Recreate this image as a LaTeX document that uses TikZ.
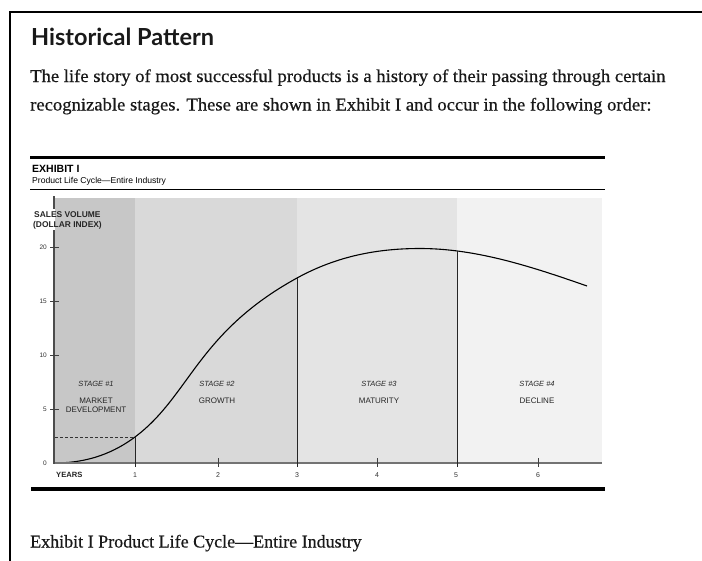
\documentclass[tikz,border=0pt]{standalone}
\usepackage{fontspec}
\setmainfont{Liberation Serif}[FakeBold=0.5]
\newfontfamily\bodyfont{Liberation Serif}[FakeBold=0.5, FakeStretch=1.035]
\newfontfamily\titlefont{Lato}
\newfontfamily\chartfont{Liberation Sans}
\definecolor{regA}{gray}{0.78}
\definecolor{regB}{gray}{0.85}
\definecolor{regC}{gray}{0.895}
\definecolor{regD}{gray}{0.95}
\definecolor{axisgray}{gray}{0.45}
\definecolor{inkblack}{gray}{0.1}
\tikzset{
  bodytext/.style={anchor=base west, inner sep=0pt, text=inkblack, font=\bodyfont\fontsize{18}{20}\selectfont},
  ticklab/.style={inner sep=0pt, font=\chartfont\fontsize{6.5}{7}\selectfont, text=black!80},
  stagelab/.style={inner sep=0pt, font=\chartfont\itshape\fontsize{7.5}{8}\selectfont, text=black!85},
  stagename/.style={inner sep=0pt, align=center, font=\chartfont\fontsize{8}{8.6}\selectfont, text=black!85},
  axislab/.style={anchor=base west, inner sep=0pt, font=\chartfont\bfseries\fontsize{8.4}{9}\selectfont, text=black!85},
  yearline/.style={draw=black!85, line width=0.9pt},
  ticklet/.style={draw=black!75, line width=1pt}
}
\begin{document}
\begin{tikzpicture}[x=1pt,y=-1pt]
\useasboundingbox (0,0) rectangle (702,560);
\fill[white] (0,0) rectangle (702,560);
% frame
\draw[line width=2pt] (10,561) -- (10,12) -- (703,12);
% heading and paragraph
\node[anchor=base west, inner sep=0pt, font=\titlefont\bfseries\fontsize{23.5}{26}\selectfont, text=inkblack] (title) at (31,45) {Historical Pattern};
\node[bodytext] (line1) at (30,82) {The life story of most successful products is a history of their passing through certain};
\node[bodytext] (line2) at (30,110.5) {recognizable stages. These are shown in Exhibit I and occur in the following order:};
% exhibit header
\draw[line width=3pt] (30,157) -- (605,157);
\node[anchor=base west, inner sep=0pt, font=\chartfont\bfseries\fontsize{10.5}{11}\selectfont] (exh) at (32,172) {EXHIBIT I};
\node[anchor=base west, inner sep=0pt, font=\chartfont\fontsize{8.6}{9}\selectfont] (exhsub) at (32,183) {Product Life Cycle—Entire Industry};
\draw[line width=0.9pt] (30,189) -- (605,189);
% stage backgrounds
\fill[regA] (55,198) rectangle (135,463);
\fill[regB] (135,198) rectangle (297,463);
\fill[regC] (297,198) rectangle (457,463);
\fill[regD] (457,198) rectangle (602,463);
% curve
\coordinate (c0) at (54,463);
\coordinate (c1) at (135,437);
\coordinate (c3) at (297,278);
\coordinate (cpk) at (420,248.5);
\coordinate (c5) at (457,251.2);
\coordinate (cend) at (587,286);
\draw[black, line width=1.1pt]
  (c0) .. controls (81,463) and (108,457) .. (c1)
       .. controls (190,395.75) and (197,333) .. (c3)
       .. controls (338,255.5) and (379,248.5) .. (cpk)
       .. controls (476,248.5) and (531,266.4) .. (cend);
% axes
\coordinate (ytop) at (54,196);
\coordinate (ygap1) at (54,209);
\coordinate (ygap2) at (54,230);
\coordinate (yorg) at (54,463);
\coordinate (ybot) at (54,464);
\coordinate (xend) at (602,463);
\draw[axisgray, line width=1.4pt] (yorg) -- (xend);
\draw[black!70, line width=2pt] (ytop) -- (ygap1);
\draw[black!70, line width=2pt] (ygap2) -- (ybot);
% dashed guide
\coordinate (dstart) at (55,437);
\draw[black!80, dash pattern=on 3pt off 2pt, line width=0.8pt] (dstart) -- (c1);
% year lines
\coordinate (b1) at (135,467);
\coordinate (b3) at (297,467);
\coordinate (b5) at (457,467);
\draw[yearline] (c1) -- (b1);
\draw[yearline] (c3) -- (b3);
\draw[yearline] (c5) -- (b5);
% x ticks
\coordinate (t2a) at (218,458); \coordinate (t2b) at (218,467);
\coordinate (t4a) at (377,458); \coordinate (t4b) at (377,467);
\coordinate (t6a) at (538,458); \coordinate (t6b) at (538,467);
\draw[ticklet] (t2a) -- (t2b);
\draw[ticklet] (t4a) -- (t4b);
\draw[ticklet] (t6a) -- (t6b);
% y ticks
\foreach \v/\yy in {20/247,15/301,10/355,5/409} {
  \coordinate (yt\v a) at (50,\yy);
  \coordinate (yt\v b) at (59,\yy);
  \draw[ticklet] (yt\v a) -- (yt\v b);
  \node[ticklab, anchor=east] (yl\v) at (47,\yy) {\v};
}
\node[ticklab, anchor=east] (yl0) at (47,463) {0};
% axis labels
\node[axislab] (ylabel1) at (34,217.5) {SALES VOLUME};
\node[axislab] (ylabel2) at (33,227.5) {(DOLLAR INDEX)};
\node[anchor=west, inner sep=0pt, font=\chartfont\bfseries\fontsize{7.6}{8}\selectfont, text=black!85] (years) at (56,475) {YEARS};
\foreach \n/\xx in {1/135,2/218,3/297,4/377,5/456,6/538} {
  \node[ticklab, font=\chartfont\fontsize{7}{7}\selectfont] (xl\n) at (\xx,475) {\n};
}
% stage labels
\node[stagelab] (s1) at (96,384) {STAGE \#1};
\node[stagename] (n1) at (96,405) {MARKET\\DEVELOPMENT};
\node[stagelab] (s2) at (217,384) {STAGE \#2};
\node[stagename] (n2) at (217,401) {GROWTH};
\node[stagelab] (s3) at (379,384) {STAGE \#3};
\node[stagename] (n3) at (379,401) {MATURITY};
\node[stagelab] (s4) at (537,384) {STAGE \#4};
\node[stagename] (n4) at (537,401) {DECLINE};
% bottom rule and caption
\draw[line width=3.5pt] (31,489) -- (605,489);
\node[anchor=base west, inner sep=0pt, text=inkblack, font=\fontsize{18}{20}\selectfont] (caption) at (30,547.5) {Exhibit I Product Life Cycle—Entire Industry};
\end{tikzpicture}
\end{document}
